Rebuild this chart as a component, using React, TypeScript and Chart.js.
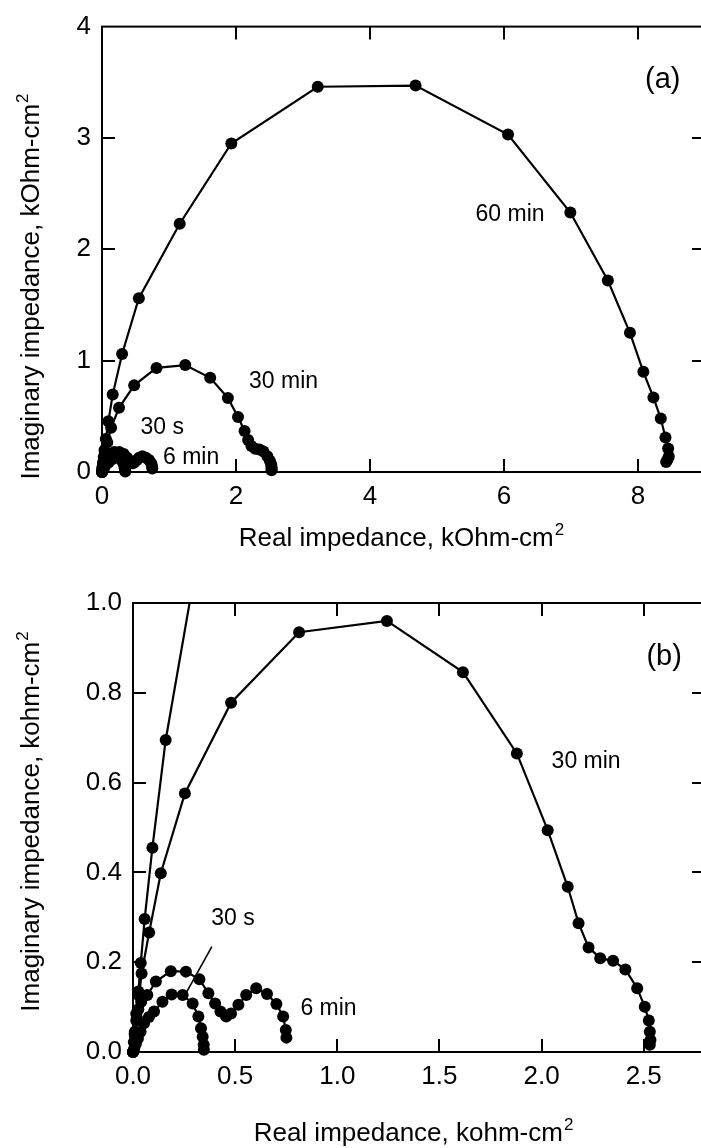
import React, { useEffect, useRef } from "react";
import { Chart, registerables } from "chart.js";

Chart.register(...registerables);

const FONT = "'Liberation Sans', Arial, Helvetica, sans-serif";

// ---- data (kOhm-cm2) ----
const series60X = [0, 0.008, 0.016, 0.026, 0.038, 0.057, 0.095, 0.16, 0.3, 0.55, 1.16, 1.93, 3.22, 4.68, 6.06, 6.99, 7.55, 7.88, 8.08, 8.23, 8.34, 8.41, 8.45, 8.46, 8.44, 8.42];
const series60Y = [0, 0.04, 0.085, 0.135, 0.198, 0.296, 0.455, 0.695, 1.06, 1.56, 2.23, 2.95, 3.46, 3.47, 3.03, 2.33, 1.72, 1.25, 0.9, 0.67, 0.48, 0.31, 0.21, 0.14, 0.11, 0.09];

const series30mX = [0, 0.01, 0.02, 0.03, 0.042, 0.079, 0.136, 0.254, 0.48, 0.813, 1.243, 1.615, 1.879, 2.03, 2.128, 2.181, 2.23, 2.287, 2.35, 2.41, 2.468, 2.505, 2.525, 2.53, 2.533, 2.53];
const series30mY = [0, 0.035, 0.075, 0.125, 0.175, 0.266, 0.398, 0.576, 0.778, 0.935, 0.96, 0.846, 0.665, 0.494, 0.368, 0.287, 0.233, 0.209, 0.203, 0.184, 0.142, 0.101, 0.07, 0.045, 0.027, 0.016];

const series6mX = [0, 0.004, 0.009, 0.016, 0.026, 0.04, 0.07, 0.112, 0.185, 0.259, 0.325, 0.369, 0.402, 0.428, 0.456, 0.48, 0.516, 0.554, 0.603, 0.656, 0.702, 0.735, 0.748, 0.751];
const series6mY = [0, 0.022, 0.045, 0.07, 0.095, 0.112, 0.127, 0.157, 0.18, 0.179, 0.162, 0.131, 0.108, 0.09, 0.079, 0.086, 0.105, 0.127, 0.142, 0.129, 0.107, 0.079, 0.049, 0.032];

const series30sX = [0, 0.006, 0.014, 0.024, 0.037, 0.054, 0.078, 0.103, 0.144, 0.189, 0.243, 0.292, 0.32, 0.333, 0.341, 0.346, 0.347];
const series30sY = [0, 0.008, 0.018, 0.03, 0.045, 0.064, 0.078, 0.09, 0.112, 0.128, 0.127, 0.108, 0.079, 0.053, 0.034, 0.016, 0.005];

const seriesNames = ["60 min", "30 min", "6 min", "30 s"];

// ---- ticks ----
const xTicksA = [0, 2, 4, 6, 8];
const yTicksA = [0, 1, 2, 3, 4];
const xTicksB = [0, 0.5, 1.0, 1.5, 2.0, 2.5];
const yTicksB = [0, 0.2, 0.4, 0.6, 0.8, 1.0];

const toPoints = (xs: number[], ys: number[]) => xs.map((x, i) => ({ x, y: ys[i] }));

type Note = { text: string; x: number; y: number; size: number };

const panelA = {
  width: 720,
  height: 560,
  top: 0,
  padTop: 24,
  padRight: 15,
  yAxisWidth: 102,
  xAxisHeight: 88,
  xMax: 9,
  yMax: 4,
  xTicks: xTicksA,
  yTicks: yTicksA,
  decimals: 0,
  xTitle: "Real impedance, kOhm-cm",
  yTitle: "Imaginary impedance, kOhm-cm",
  xTitlePos: [401, 546],
  yTitlePos: [39, 287],
  notes: [
    { text: "60 min", x: 6.09, y: 2.31, size: 23 },
    { text: "30 min", x: 2.71, y: 0.81, size: 23 },
    { text: "30 s", x: 0.9, y: 0.4, size: 23 },
    { text: "6 min", x: 1.33, y: 0.125, size: 23 },
    { text: "(a)", x: 8.37, y: 3.52, size: 29 },
  ] as Note[],
  leaders: [] as number[][],
};

const panelB = {
  width: 720,
  height: 588,
  top: 560,
  padTop: 43,
  padRight: 15,
  yAxisWidth: 133,
  xAxisHeight: 96,
  xMax: 2.8,
  yMax: 1.0,
  xTicks: xTicksB,
  yTicks: yTicksB,
  decimals: 1,
  xTitle: "Real impedance, kohm-cm",
  yTitle: "Imaginary impedance, kohm-cm",
  xTitlePos: [413, 581],
  yTitlePos: [39, 262],
  notes: [
    { text: "30 min", x: 2.218, y: 0.646, size: 23 },
    { text: "30 s", x: 0.489, y: 0.298, size: 23 },
    { text: "6 min", x: 0.957, y: 0.096, size: 23 },
    { text: "(b)", x: 2.6, y: 0.88, size: 29 },
  ] as Note[],
  leaders: [[0.386, 0.2345, 0.263, 0.134]],
};

type Panel = typeof panelA;

function drawTitle(ctx: CanvasRenderingContext2D, main: string, sup: string, bx: number, by: number, rot: number, size: number) {
  ctx.save();
  ctx.translate(bx, by);
  ctx.rotate(rot);
  const supSize = Math.round(size * 0.64);
  ctx.font = `${size}px ${FONT}`;
  const wMain = ctx.measureText(main).width;
  ctx.font = `${supSize}px ${FONT}`;
  const wSup = ctx.measureText(sup).width;
  const total = wMain + wSup;
  ctx.fillStyle = "#000";
  ctx.textAlign = "left";
  ctx.textBaseline = "alphabetic";
  ctx.font = `${size}px ${FONT}`;
  ctx.fillText(main, -total / 2, 0);
  ctx.font = `${supSize}px ${FONT}`;
  ctx.fillText(sup, -total / 2 + wMain + 1, -size * 0.42);
  ctx.restore();
}

function makeDecor(p: Panel) {
  return {
    id: "decor",
    afterDatasetsDraw(chart: any) {
      const ctx: CanvasRenderingContext2D = chart.ctx;
      const { left, right, top, bottom } = chart.chartArea;
      const xs = chart.scales.x;
      const ys = chart.scales.y;
      ctx.save();
      ctx.strokeStyle = "#000";
      ctx.lineWidth = 2;
      ctx.strokeRect(left, top, right - left, bottom - top);
      const tl = 13;
      ctx.beginPath();
      for (const v of p.xTicks) {
        if (v <= 0 || v >= p.xMax) continue;
        const px = Math.round(xs.getPixelForValue(v));
        ctx.moveTo(px, bottom);
        ctx.lineTo(px, bottom - tl);
        ctx.moveTo(px, top);
        ctx.lineTo(px, top + tl);
      }
      for (const v of p.yTicks) {
        if (v <= 0 || v >= p.yMax) continue;
        const py = Math.round(ys.getPixelForValue(v));
        ctx.moveTo(left, py);
        ctx.lineTo(left + tl, py);
        ctx.moveTo(right, py);
        ctx.lineTo(right - tl, py);
      }
      ctx.stroke();

      ctx.lineWidth = 1.6;
      ctx.beginPath();
      for (const l of p.leaders) {
        ctx.moveTo(xs.getPixelForValue(l[0]), ys.getPixelForValue(l[1]));
        ctx.lineTo(xs.getPixelForValue(l[2]), ys.getPixelForValue(l[3]));
      }
      ctx.stroke();

      ctx.fillStyle = "#000";
      ctx.textAlign = "center";
      ctx.textBaseline = "middle";
      for (const n of p.notes) {
        ctx.font = `${n.size}px ${FONT}`;
        ctx.fillText(n.text, xs.getPixelForValue(n.x), ys.getPixelForValue(n.y));
      }

      drawTitle(ctx, p.xTitle, "2", p.xTitlePos[0], p.xTitlePos[1], 0, 26);
      drawTitle(ctx, p.yTitle, "2", p.yTitlePos[0], p.yTitlePos[1], -Math.PI / 2, 26);
      ctx.restore();
    },
  };
}

function makeConfig(p: Panel): any {
  const ds = (label: string, xs: number[], ys: number[]) => ({
    label,
    data: toPoints(xs, ys),
    showLine: true,
    borderColor: "#000",
    borderWidth: 2.2,
    backgroundColor: "#000",
    pointRadius: 6,
    pointBorderWidth: 0,
    pointBackgroundColor: "#000",
    clip: { left: 8, bottom: 8, top: 0, right: 0 },
  });
  const fmt = (v: number) => (p.decimals ? Number(v).toFixed(p.decimals) : String(v));
  return {
    type: "scatter",
    data: {
      datasets: [
        ds(seriesNames[0], series60X, series60Y),
        ds(seriesNames[1], series30mX, series30mY),
        ds(seriesNames[2], series6mX, series6mY),
        ds(seriesNames[3], series30sX, series30sY),
      ],
    },
    options: {
      responsive: false,
      animation: false,
      devicePixelRatio: 1,
      layout: { padding: { top: p.padTop, right: p.padRight, left: 0, bottom: 0 } },
      plugins: { legend: { display: false }, tooltip: { enabled: false } },
      scales: {
        x: {
          type: "linear",
          min: 0,
          max: p.xMax,
          afterBuildTicks: (s: any) => {
            s.ticks = p.xTicks.map((v) => ({ value: v }));
          },
          afterFit: (s: any) => {
            s.height = p.xAxisHeight;
          },
          grid: { display: false, drawTicks: false },
          border: { display: false },
          ticks: {
            color: "#000",
            font: { family: FONT, size: 26 },
            padding: 9,
            maxRotation: 0,
            autoSkip: false,
            callback: (v: any) => fmt(v),
          },
        },
        y: {
          type: "linear",
          min: 0,
          max: p.yMax,
          afterBuildTicks: (s: any) => {
            s.ticks = p.yTicks.map((v) => ({ value: v }));
          },
          afterFit: (s: any) => {
            s.width = p.yAxisWidth;
          },
          grid: { display: false, drawTicks: false },
          border: { display: false },
          ticks: {
            color: "#000",
            font: { family: FONT, size: 26 },
            padding: 11,
            autoSkip: false,
            callback: (v: any) => fmt(v),
          },
        },
      },
    },
    plugins: [makeDecor(p)],
  };
}

function Panel({ p }: { p: Panel }) {
  const ref = useRef<HTMLCanvasElement | null>(null);
  useEffect(() => {
    if (!ref.current) return;
    const chart = new Chart(ref.current, makeConfig(p));
    return () => chart.destroy();
  }, [p]);
  return (
    <div style={{ position: "absolute", left: 0, top: p.top, width: p.width, height: p.height }}>
      <canvas ref={ref} width={p.width} height={p.height} style={{ width: p.width, height: p.height, display: "block" }} />
    </div>
  );
}

export default function App() {
  return (
    <div
      style={{
        position: "absolute",
        left: 0,
        top: 0,
        width: 701,
        height: 1148,
        overflow: "hidden",
        background: "#fff",
      }}
    >
      <Panel p={panelA} />
      <Panel p={panelB} />
    </div>
  );
}
